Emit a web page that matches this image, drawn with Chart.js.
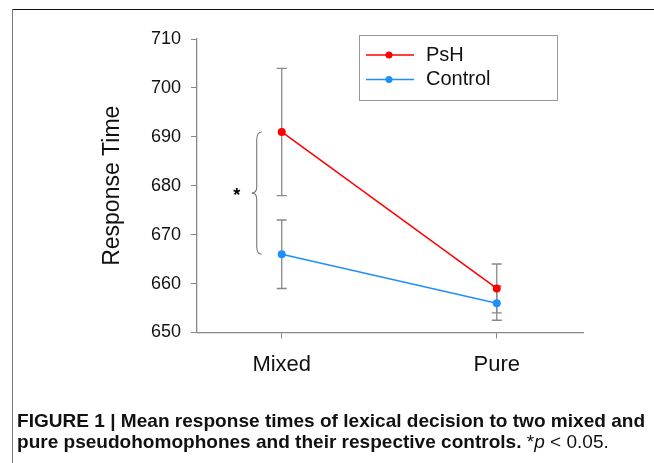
<!DOCTYPE html>
<html>
<head>
<meta charset="utf-8">
<script src="https://cdn.jsdelivr.net/npm/chart.js@4/dist/chart.umd.min.js"></script>
<style>
  html, body { margin: 0; padding: 0; background: #fff; }
  #wrap { position: relative; width: 654px; height: 463px; overflow: hidden; }
  #frameTop { position: absolute; left: 12px; top: 9px; width: 642px; height: 0; border-top: 1.5px solid #111; }
  #frameLeft { position: absolute; left: 12px; top: 9px; width: 0; height: 460px; border-left: 1.5px solid #777; }
  #chart { position: absolute; left: 0; top: 0; }
  .cap { position: absolute; left: 17px; white-space: nowrap; font-family: "Liberation Sans", Arial, sans-serif;
         font-size: 19px; color: #111; transform-origin: 0 50%; }
  .cap b { font-weight: bold; }
  .cap i { font-style: italic; }
</style>
</head>
<body>
<div id="wrap">
  <div id="frameTop"></div>
  <div id="frameLeft"></div>
  <canvas id="chart" width="654" height="463"></canvas>
  <div class="cap" id="cap1" style="top:410px"><b>FIGURE 1 | Mean response times of lexical decision to two mixed and</b></div>
  <div class="cap" id="cap2" style="top:431px"><b>pure pseudohomophones and their respective controls.</b> *<i>p</i> &lt; 0.05.</div>
</div>
<script>
// data
var categories = ['Mixed', 'Pure'];
var pshValues = [691, 659];
var pshErrors = [13, 5];
var controlValues = [666, 656];
var controlErrors = [7, 3.5];
var yTicks = [650, 660, 670, 680, 690, 700, 710];

var RED = '#ff0000';
var BLUE = '#1e8fff';
var FONT = "'Liberation Sans', Arial, sans-serif";

function toPoints(vals) {
    return vals.map(function(v, i){ return { x: i, y: v }; });
}

// error bars, drawn under the lines
var errorBars = {
    id: 'errorBars',
    beforeDatasetsDraw: function(chart) {
        var ctx = chart.ctx;
        var xs = chart.scales.x, ys = chart.scales.y;
        var sets = [[pshValues, pshErrors], [controlValues, controlErrors]];
        ctx.save();
        ctx.strokeStyle = '#888';
        ctx.lineWidth = 1.3;
        sets.forEach(function(s){
            s[0].forEach(function(v, i){
                var x = xs.getPixelForValue(i);
                var top = ys.getPixelForValue(v + s[1][i]);
                var bot = ys.getPixelForValue(v - s[1][i]);
                ctx.beginPath();
                ctx.moveTo(x, top); ctx.lineTo(x, bot);
                ctx.moveTo(x - 5, top); ctx.lineTo(x + 5, top);
                ctx.moveTo(x - 5, bot); ctx.lineTo(x + 5, bot);
                ctx.stroke();
            });
        });
        ctx.restore();
    }
};

// curly brace + asterisk between the two Mixed means
var braceMark = {
    id: 'braceMark',
    afterDatasetsDraw: function(chart) {
        var ctx = chart.ctx;
        var xs = chart.scales.x, ys = chart.scales.y;
        var xr = xs.getPixelForValue(0) - 20;
        var y1 = ys.getPixelForValue(pshValues[0]);
        var y2 = ys.getPixelForValue(controlValues[0]);
        var xm = xr - 5, xt = xr - 10;
        var mid = (y1 + y2) / 2;
        ctx.save();
        ctx.strokeStyle = '#777';
        ctx.lineWidth = 1.1;
        ctx.beginPath();
        ctx.moveTo(xr, y1);
        ctx.quadraticCurveTo(xm, y1, xm, y1 + 8);
        ctx.lineTo(xm, mid - 6);
        ctx.quadraticCurveTo(xm, mid, xt, mid);
        ctx.quadraticCurveTo(xm, mid, xm, mid + 6);
        ctx.lineTo(xm, y2 - 8);
        ctx.quadraticCurveTo(xm, y2, xr, y2);
        ctx.stroke();
        ctx.fillStyle = '#000';
        ctx.font = 'bold 18px ' + FONT;
        ctx.textAlign = 'center';
        ctx.textBaseline = 'middle';
        ctx.fillText('*', xt - 15, mid + 3);
        ctx.restore();
    }
};

// boxed legend in the top right of the plot
var boxLegend = {
    id: 'boxLegend',
    afterDraw: function(chart) {
        var ctx = chart.ctx;
        var bx = 359, by = 35, bw = 198, bh = 65;
        ctx.save();
        ctx.strokeStyle = '#999';
        ctx.lineWidth = 1;
        ctx.strokeRect(bx + 0.5, by + 0.5, bw, bh);
        chart.data.datasets.forEach(function(ds, i){
            var y = by + 20 + i * 24.5;
            ctx.strokeStyle = ds.borderColor;
            ctx.lineWidth = 1.5;
            ctx.beginPath();
            ctx.moveTo(bx + 7, y); ctx.lineTo(bx + 55, y);
            ctx.stroke();
            ctx.fillStyle = ds.borderColor;
            ctx.beginPath();
            ctx.arc(bx + 30, y, 3.5, 0, Math.PI * 2);
            ctx.fill();
            ctx.fillStyle = '#111';
            ctx.font = '20px ' + FONT;
            ctx.textBaseline = 'middle';
            ctx.fillText(ds.label, bx + 67, y);
        });
        ctx.restore();
    }
};

var config = {
    type: 'line',
    data: {
        datasets: [{
            label: 'PsH',
            data: toPoints(pshValues),
            borderColor: RED,
            backgroundColor: RED,
            borderWidth: 1.5,
            pointRadius: 4,
            pointBorderWidth: 0
        }, {
            label: 'Control',
            data: toPoints(controlValues),
            borderColor: BLUE,
            backgroundColor: BLUE,
            borderWidth: 1.5,
            pointRadius: 4,
            pointBorderWidth: 0
        }]
    },
    options: {
        responsive: false,
        animation: false,
        layout: { padding: { left: 95, top: 39, right: 71, bottom: 0 } },
        plugins: {
            legend: { display: false },
            tooltip: { enabled: false }
        },
        scales: {
            x: {
                type: 'linear',
                min: -0.394,
                max: 1.401,
                afterFit: function(scale){ scale.height = 130.5; },
                afterBuildTicks: function(scale){
                    scale.ticks = categories.map(function(c, i){ return { value: i }; });
                },
                grid: { drawOnChartArea: false, tickLength: 6, color: '#888' },
                border: { color: '#888', width: 1.3 },
                ticks: {
                    autoSkip: false,
                    padding: 13,
                    color: '#111',
                    font: { family: FONT, size: 22 },
                    callback: function(v){ return categories[v]; }
                }
            },
            y: {
                min: yTicks[0],
                max: yTicks[yTicks.length - 1],
                afterFit: function(scale){ scale.width = 102; },
                afterBuildTicks: function(scale){
                    scale.ticks = yTicks.map(function(v){ return { value: v }; });
                },
                grid: { drawOnChartArea: false, tickLength: 6, color: '#888' },
                border: { color: '#888', width: 1.3 },
                ticks: { padding: 10, color: '#111', font: { family: FONT, size: 18 } },
                title: {
                    display: true,
                    text: 'Response Time',
                    color: '#111',
                    font: { family: FONT, size: 23 }
                }
            }
        }
    },
    plugins: [errorBars, braceMark, boxLegend]
};

var canvas = document.getElementById('chart');
var chart = new Chart(canvas, config);

// squeeze the caption lines to the condensed width of the original
[['cap1', 628], ['cap2', 592]].forEach(function(c){
    var el = document.getElementById(c[0]);
    var w = el.scrollWidth;
    el.style.transform = 'scaleX(' + (c[1] / w) + ')';
});
</script>
</body>
</html>
